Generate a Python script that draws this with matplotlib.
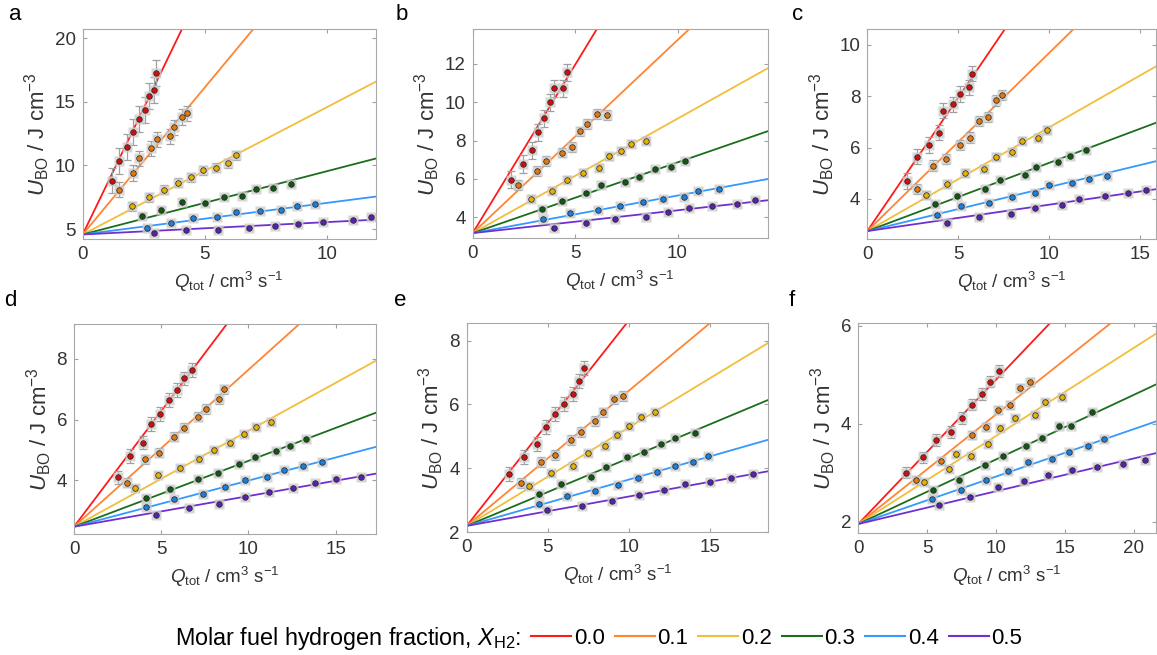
import numpy as np
import matplotlib
matplotlib.use("Agg")
import matplotlib.pyplot as plt
from matplotlib.lines import Line2D

plt.rcParams['font.family'] = ['Liberation Sans', 'DejaVu Sans']
plt.rcParams['mathtext.fontset'] = 'custom'
plt.rcParams['mathtext.rm'] = 'Liberation Sans'
plt.rcParams['mathtext.it'] = 'Liberation Sans:italic'

# hydrogen fractions and colours
fractions = ["0.0", "0.1", "0.2", "0.3", "0.4", "0.5"]
line_colors = ["#ff1a1a", "#ff8533", "#f2be3a", "#1b6e1b", "#3399ff", "#7030d0"]
dot_colors = ["#d01010", "#e07a10", "#e8b000", "#0f5a0f", "#1a80e0", "#5a20b0"]

# ---- panel a ----
q_a = [[1.19, 1.50, 1.82, 2.08, 2.32, 2.54, 2.72, 2.92, 3.01],
       [1.50, 2.08, 2.32, 2.80, 3.03, 3.58, 3.72, 4.06, 4.29],
       [2.01, 2.72, 3.33, 3.89, 4.44, 4.92, 5.46, 5.96, 6.28],
       [2.42, 3.21, 4.06, 5.01, 5.79, 6.53, 7.08, 7.79, 8.52],
       [2.62, 3.61, 4.51, 5.52, 6.28, 7.27, 8.11, 8.77, 9.52],
       [2.94, 4.22, 5.56, 6.80, 7.86, 8.81, 9.84, 11.09, 11.80]]
u_a = [[8.80, 10.37, 11.47, 12.62, 13.64, 14.37, 15.47, 15.94, 17.28],
       [8.09, 9.40, 10.55, 11.36, 12.07, 12.28, 13.01, 13.80, 14.11],
       [6.78, 7.49, 8.09, 8.66, 9.08, 9.61, 9.84, 10.18, 10.79],
       [6.07, 6.52, 7.17, 7.04, 7.51, 7.62, 8.19, 8.25, 8.56],
       [5.08, 5.52, 5.84, 5.99, 6.34, 6.39, 6.52, 6.78, 6.94],
       [4.66, 4.90, 4.95, 5.05, 5.21, 5.42, 5.55, 5.73, 5.97]]
err_a = [1.0, 0.6, 0.35, 0.2, 0.15, 0.15]
slope_a = [3.97, 2.31, 1.0, 0.497, 0.248, 0.097]
icpt_a = 4.58

# ---- panel b ----
q_b = [[1.87, 2.44, 2.88, 3.21, 3.50, 3.75, 3.97, 4.43, 4.59],
       [2.23, 3.13, 3.58, 4.36, 4.84, 5.24, 5.57, 6.06, 6.58],
       [2.85, 3.86, 4.59, 5.37, 6.16, 6.65, 7.26, 7.75, 8.44],
       [3.39, 4.38, 5.54, 6.25, 7.44, 8.11, 8.91, 9.69, 10.37],
       [3.45, 4.76, 6.11, 7.20, 8.29, 9.27, 10.29, 10.98, 12.0],
       [3.97, 5.54, 6.94, 8.45, 9.51, 10.55, 11.68, 12.90, 13.76]]
u_b = [[5.95, 6.78, 7.48, 8.43, 9.15, 10.0, 10.73, 10.73, 11.55],
       [5.67, 6.42, 6.94, 7.37, 7.65, 8.47, 8.85, 9.37, 9.34],
       [4.97, 5.39, 5.95, 6.31, 6.59, 7.17, 7.46, 7.84, 7.98],
       [4.42, 4.82, 5.27, 5.67, 5.86, 6.10, 6.50, 6.61, 6.94],
       [3.91, 4.24, 4.35, 4.56, 4.77, 4.97, 5.08, 5.37, 5.48],
       [3.46, 3.72, 3.91, 4.02, 4.26, 4.49, 4.61, 4.70, 4.89]]
err_b = [0.45, 0.25, 0.18, 0.12, 0.1, 0.1]
slope_b = [1.756, 1.007, 0.597, 0.369, 0.196, 0.119]
icpt_b = 3.17

# ---- panel c ----
q_c = [[2.20, 2.75, 3.39, 3.96, 4.18, 4.71, 5.11, 5.59, 5.79],
       [2.75, 3.63, 4.32, 5.09, 5.64, 6.14, 6.65, 7.09, 7.44],
       [3.21, 4.41, 5.37, 6.43, 7.11, 7.97, 8.52, 9.40, 9.89],
       [3.75, 4.95, 6.50, 7.29, 8.70, 9.30, 10.49, 11.14, 12.05],
       [3.86, 5.18, 6.70, 7.97, 9.25, 10.0, 11.28, 12.20, 13.22],
       [4.40, 6.14, 7.89, 9.25, 10.73, 11.68, 13.10, 14.34, 15.35]]
u_c = [[4.70, 5.65, 6.10, 6.58, 7.44, 7.68, 8.08, 8.34, 8.87],
       [4.38, 5.30, 5.55, 6.10, 6.39, 7.04, 7.18, 7.83, 8.03],
       [4.16, 4.57, 5.00, 5.18, 5.65, 5.83, 6.27, 6.39, 6.68],
       [3.81, 4.13, 4.38, 4.74, 4.94, 5.23, 5.42, 5.68, 5.90],
       [3.38, 3.74, 3.86, 4.09, 4.22, 4.55, 4.61, 4.79, 4.91],
       [3.08, 3.29, 3.40, 3.64, 3.77, 4.01, 4.10, 4.22, 4.36]]
err_c = [0.3, 0.2, 0.15, 0.1, 0.08, 0.08]
slope_c = [1.037, 0.692, 0.403, 0.265, 0.171, 0.1025]
icpt_c = 2.75

# ---- panel d ----
q_d = [[2.51, 3.22, 3.95, 4.43, 4.96, 5.46, 5.90, 6.28, 6.76],
       [3.03, 4.08, 4.89, 5.75, 6.28, 7.11, 7.57, 8.30, 8.58],
       [3.51, 4.79, 6.09, 7.15, 8.03, 8.93, 9.74, 10.46, 11.30],
       [4.14, 5.52, 7.11, 8.24, 9.44, 10.36, 11.59, 12.38, 13.33],
       [4.14, 5.75, 7.38, 8.64, 9.79, 11.07, 12.07, 13.12, 14.20],
       [4.71, 6.57, 8.33, 9.83, 11.17, 12.55, 13.81, 15.0, 16.48]]
u_d = [[4.10, 4.80, 5.24, 5.85, 6.19, 6.65, 6.98, 7.36, 7.63],
       [3.92, 4.69, 4.91, 5.43, 5.73, 6.10, 6.35, 6.68, 7.00],
       [3.76, 4.18, 4.40, 4.70, 4.99, 5.24, 5.52, 5.77, 5.93],
       [3.43, 3.70, 4.04, 4.23, 4.54, 4.76, 4.95, 5.13, 5.35],
       [3.13, 3.38, 3.54, 3.77, 4.01, 4.12, 4.33, 4.48, 4.60],
       [2.86, 3.10, 3.23, 3.46, 3.62, 3.76, 3.91, 4.05, 4.10]]
err_d = [0.22, 0.15, 0.1, 0.08, 0.06, 0.06]
slope_d = [0.762, 0.517, 0.316, 0.217, 0.152, 0.101]
icpt_d = 2.47

# ---- panel e ----
q_e = [[2.63, 3.55, 4.31, 4.89, 5.44, 5.99, 6.55, 6.94, 7.25],
       [3.35, 4.58, 5.44, 6.41, 7.04, 7.91, 8.38, 9.10, 9.65],
       [3.86, 5.20, 6.53, 7.45, 8.52, 9.24, 10.02, 10.78, 11.60],
       [4.48, 5.81, 7.64, 8.62, 9.90, 10.92, 12.01, 12.83, 14.07],
       [4.48, 6.20, 7.91, 9.36, 10.57, 11.75, 12.83, 13.96, 14.89],
       [4.93, 7.08, 8.99, 10.60, 12.16, 13.47, 15.03, 16.32, 17.66]]
u_e = [[3.82, 4.37, 4.76, 5.29, 5.71, 6.02, 6.32, 6.72, 7.13],
       [3.55, 4.20, 4.41, 4.89, 5.13, 5.49, 5.75, 6.16, 6.27],
       [3.45, 3.85, 4.09, 4.49, 4.71, 5.06, 5.33, 5.60, 5.76],
       [3.19, 3.50, 3.74, 4.03, 4.35, 4.50, 4.76, 4.95, 5.10],
       [2.89, 3.14, 3.29, 3.48, 3.69, 3.88, 4.08, 4.21, 4.39],
       [2.70, 2.83, 2.98, 3.18, 3.32, 3.50, 3.58, 3.71, 3.82]]
err_e = [0.22, 0.15, 0.1, 0.07, 0.06, 0.06]
slope_e = [0.643, 0.423, 0.308, 0.212, 0.145, 0.092]
icpt_e = 2.2

# ---- panel f ----
q_f = [[3.45, 4.70, 5.66, 6.75, 7.54, 8.27, 8.94, 9.59, 10.24],
       [4.22, 5.98, 8.24, 9.23, 10.14, 11.01, 11.73, 12.46],
       [4.77, 6.55, 7.11, 8.19, 9.40, 10.31, 11.40, 12.84, 13.57, 14.75],
       [5.42, 7.28, 9.16, 10.48, 12.17, 13.33, 14.53, 15.42, 16.94],
       [5.35, 7.42, 9.23, 10.84, 12.29, 14.05, 15.30, 16.67, 17.83],
       [5.86, 8.12, 10.12, 12.05, 13.78, 15.49, 17.35, 19.23, 20.80]]
u_f = [[3.00, 3.31, 3.66, 3.83, 4.12, 4.39, 4.61, 4.86, 5.07],
       [2.85, 3.24, 3.76, 3.93, 4.28, 4.38, 4.73, 4.85],
       [2.80, 3.07, 3.38, 3.33, 3.58, 3.91, 4.11, 4.17, 4.44, 4.54],
       [2.65, 2.84, 3.15, 3.34, 3.55, 3.71, 3.96, 3.96, 4.24],
       [2.46, 2.65, 2.85, 3.04, 3.21, 3.27, 3.43, 3.55, 3.68],
       [2.34, 2.51, 2.70, 2.82, 2.95, 3.06, 3.12, 3.18, 3.25]]
err_f = [0.12, 0.08, 0.06, 0.05, 0.04, 0.04]
slope_f = [0.295, 0.224, 0.180, 0.132, 0.097, 0.067]
icpt_f = 1.95

W, H = 1157, 655
fig = plt.figure(figsize=(W / 100, H / 100), dpi=100)


def px_axes(l, t, r, b):
    return fig.add_axes([l / W, 1 - b / H, (r - l) / W, (b - t) / H])


panels = [
    ("a", (82.7, 29.3, 375.7, 239.3), (15, 15), q_a, u_a, err_a, slope_a, icpt_a, (0, 12), (4.2, 20.7), [0, 5, 10], [5, 10, 15, 20]),
    ("b", (472.7, 29.3, 767.7, 238.3), (402, 14), q_b, u_b, err_b, slope_b, icpt_b, (0, 14.4), (2.9, 13.8), [0, 5, 10], [4, 6, 8, 10, 12]),
    ("c", (867.3, 29.3, 1156, 239.3), (798, 15), q_c, u_c, err_c, slope_c, icpt_c, (0, 15.9), (2.43, 10.6), [0, 5, 10, 15], [4, 6, 8, 10]),
    ("d", (74, 324, 375.7, 534.3), (10, 300), q_d, u_d, err_d, slope_d, icpt_d, (0, 17.3), (2.22, 9.15), [0, 5, 10, 15], [4, 6, 8]),
    ("e", (466.7, 323.3, 768.3, 532.3), (400, 300), q_e, u_e, err_e, slope_e, icpt_e, (0, 18.6), (2.0, 8.54), [0, 5, 10, 15], [2, 4, 6, 8]),
    ("f", (858.3, 323.3, 1156, 533.3), (792, 300), q_f, u_f, err_f, slope_f, icpt_f, (0, 21.6), (1.76, 6.05), [0, 5, 10, 15, 20], [2, 4, 6]),
]

for letter, box, lpos, qs, us, errs, slopes, icpt, xlim, ylim, xt, yt in panels:
    ax = px_axes(*box)
    xx = np.array(xlim)
    # fitted lines, common intercept
    for k in range(6):
        ax.plot(xx, icpt + slopes[k] * xx, color=line_colors[k], lw=1.3, zorder=2)
    # data with error bars
    for k in range(6):
        q = np.array(qs[k])
        u = np.array(us[k])
        ax.errorbar(q, u, yerr=errs[k], fmt="none", ecolor="#a0a0a0",
                    elinewidth=0.9, capsize=3, capthick=0.9, zorder=3)
        ax.plot(q, u, "s", ms=7.5, color="#cccccc", alpha=0.8, mec="none", zorder=3)
        ax.plot(q, u, "o", ms=4, mfc=dot_colors[k], mec="#202020", mew=0.5, zorder=4)
    ax.set_xlim(xlim)
    ax.set_ylim(ylim)
    ax.set_xticks(xt)
    ax.set_yticks(yt)
    ax.tick_params(direction="in", length=3, top=True, right=True,
                   labelsize=13.5, colors="#a0a0a0", labelcolor="#333333", pad=5)
    for s in ax.spines.values():
        s.set_color("#a8a8a8")
        s.set_linewidth(0.8)
    ax.set_xlabel(r"$Q_{\mathrm{tot}}$ / cm$^3$ s$^{-1}$", fontsize=13.5, color="#333333", labelpad=5)
    ax.set_ylabel(r"$U_{\mathrm{BO}}$ / J cm$^{-3}$", fontsize=16, color="#333333", labelpad=2)
    fig.text(lpos[0] / W, 1 - lpos[1] / H, letter, fontsize=16, ha="center", va="center")

# legend row at the bottom
fig.text(175 / W, 1 - 638 / H, r"Molar fuel hydrogen fraction, $X_{\mathrm{H2}}$:",
         fontsize=16.8, ha="left", va="center")
handles = [Line2D([0], [0], color=c, lw=1.5) for c in line_colors]
fig.legend(handles, fractions, loc="center left", bbox_to_anchor=(531 / W, 1 - 638 / H),
           ncol=6, frameon=False, fontsize=16, handlelength=1.8, handletextpad=0.12,
           columnspacing=0.45, borderpad=0, borderaxespad=0)

fig.savefig("out.png", dpi=100)
